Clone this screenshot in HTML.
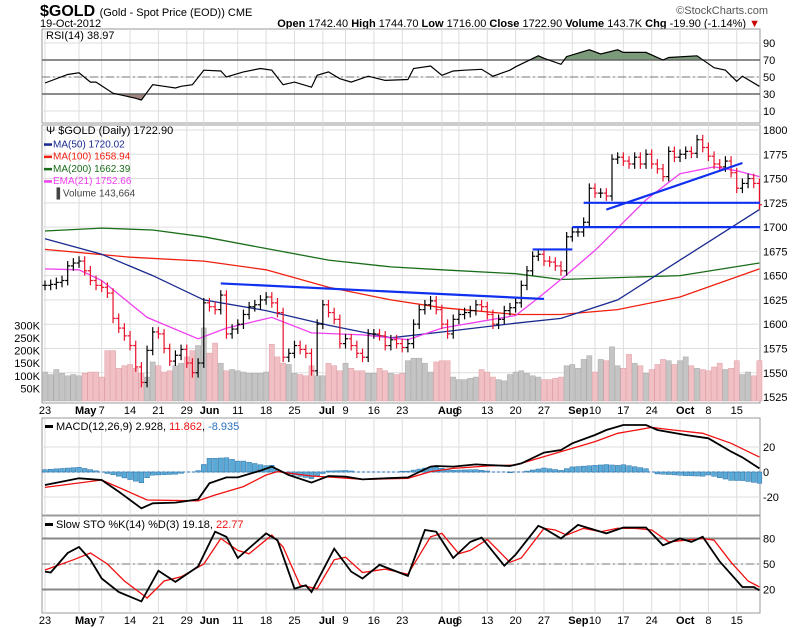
<!DOCTYPE html>
<html><head><meta charset="utf-8">
<style>
html,body{margin:0;padding:0;background:#fff;}
svg{display:block;font-family:"Liberation Sans",sans-serif;}
</style></head>
<body>
<svg id="chart" width="800" height="628" viewBox="0 0 800 628">
  <text x="40" y="16" font-size="16" font-weight="bold">$GOLD <tspan font-size="11" font-weight="normal">(Gold - Spot Price (EOD)) CME</tspan></text>
  <text x="768" y="14" font-size="11" fill="#555" text-anchor="end">©StockCharts.com</text>
  <text x="40" y="27" font-size="11">19-Oct-2012</text>
  <text x="760" y="27" font-size="11" text-anchor="end"><tspan font-weight="bold">Open</tspan> 1742.40 <tspan font-weight="bold">High</tspan> 1744.70 <tspan font-weight="bold">Low</tspan> 1716.00 <tspan font-weight="bold">Close</tspan> 1722.90 <tspan font-weight="bold">Volume</tspan> 143.7K <tspan font-weight="bold">Chg</tspan> -19.90 (-1.14%) <tspan fill="#c00">▼</tspan></text>
  <g id="layers"></g>
</svg>
<script>
// ---- data ----
const closes = [1640,1641,1643,1645,1660, 1663,1665,1655,1645,1640, 1638,1632,1606,1596,1588, 1578,1556,1540,1573,1592,
 1590,1575,1562,1568,1574, 1560,1550,1560,1622, 1618,1615,1630,1590,1595, 1600,1610,1618,1620,1625,
 1628,1622,1612,1566,1570, 1578,1574,1570,1552,1600, 1620,1612,1605,1580, 1585,1578,1570,1566,1590,
 1590,1588,1578,1584,1580, 1576,1580,1600,1615,1620, 1624,1615,1600,1590,1605, 1610,1612,1614,1620,1618,
 1610,1600,1605,1614,1617, 1622,1640,1655,1670,1672, 1665,1664,1660,1655,1690, 1695,1695,1705,1740,
 1735,1735,1732,1770,1772, 1768,1765,1772,1765,1775, 1765,1760,1752,1778,1772, 1775,1778,1776,1790,1782,
 1773,1765,1762,1768,1756, 1740,1745,1750,1745,1723];
const volumes = [115,105,125,110,100, 105,100,110,115,115, 95,200,200,130,140, 145,130,110,95,155,
 140,115,120,140,150, 175,200,220,290, 190,230,150,120,125, 120,115,110,110,110,
 115,225,175,150,145, 110,105,100,140,100, 100,150,140,120, 150,130,120,120,110,
 110,130,120,110,105, 110,160,170,170,150, 115,155,160,160,95, 85,85,90,95,125,
 115,95,85,80,105, 115,120,110,100,95, 85,85,90,95,140, 145,130,165,180,
 115,165,160,215,140, 130,185,150,140,110, 125,145,165,160,145, 160,175,140,130,125,
 120,135,150,125,130, 160,105,115,100,160];
const ma50Idx = [0,10,19,28,39,50,61,70,83,91,101,112,126];
const ma50Val = [1688,1672,1650,1625,1614,1599,1586,1592,1601,1606,1625,1666,1718];
const ma100Idx = [0,15,28,39,50,61,70,83,91,101,112,126];
const ma100Val = [1677,1669,1665,1656,1638,1625,1617,1610,1610,1615,1628,1657];
const ma200Idx = [0,10,19,28,39,50,61,70,83,91,101,112,126];
const ma200Val = [1696,1699,1697,1690,1678,1666,1659,1656,1652,1646,1648,1650,1663];
const emaIdx = [0,6,10,18,27,32,40,47,56,64,70,78,83,87,92,97,106,112,118,122,126];
const emaVal = [1657,1656,1645,1607,1585,1596,1607,1591,1589,1584,1596,1604,1609,1627,1651,1676,1728,1755,1762,1758,1752];
const rsiIdx = [0,4,6,8,9,12,16,17,19,21,23,24,26,28,31,32,35,38,40,42,44,47,48,50,52,54,57,60,64,65,68,70,72,74,77,79,82,83,87,88,91,92,96,98,101,102,106,109,110,115,118,120,122,123,126];
const rsiVal = [43,53,55,44,44,31,25,23,41,39,37,39,41,58,57,50,56,60,58,41,44,38,52,56,48,44,51,46,47,60,63,52,57,58,59,51,58,62,75,72,65,74,82,77,82,79,79,70,73,75,61,58,45,51,39];
const macdIdx = [0,6,10,13,17,19,23,27,29,32,34,38,40,43,47,50,53,56,60,64,68,69,72,76,78,82,84,88,91,93,97,99,102,106,108,113,117,121,123,126];
const macdVal = [-10.4,-5,-6.4,-15.7,-29,-25,-24.5,-21.9,-9,-4.3,-4.3,1.1,4.3,-2.4,-8.5,-3.2,-3.7,-5.9,-5,-4.3,4.3,4.8,4.3,6.1,5.6,4.8,6.9,15.5,17.6,23,29.6,33.6,37.6,37.6,33.6,29.6,27,16.3,11.7,2.9];
const sigIdx = [0,10,14,18,27,30,35,39,41,47,51,56,64,68,72,78,83,88,92,97,101,107,110,116,121,126];
const sigVal = [-12.3,-6.4,-14.3,-22.4,-23,-18.4,-11.7,-2.4,0.3,-3.2,-4.3,-5.9,-5,0.3,2.9,4.8,5.6,12.3,17.6,24.3,31,35.7,34,31,23,11.9];
const stoKIdx = [0,1,4,6,8,10,13,17,20,23,27,30,32,34,39,41,44,46,47,51,54,56,59,64,67,69,72,75,77,81,83,87,88,91,94,97,99,102,106,109,112,114,116,119,123,125,126];
const stoKVal = [41,40,63,70,55,33,17,6,42,29,47,88,82,57,86,78,21,25,17,68,41,33,49,36,90,88,57,76,81,48,61,95,92,80,96,90,86,93,93,72,80,76,82,53,23,23,19];
const stoDIdx = [0,5,8,11,14,18,21,24,28,31,34,36,40,42,45,48,51,53,56,60,64,68,70,73,75,78,82,84,88,90,92,95,98,101,104,107,110,113,116,118,121,124,126];
const stoDVal = [43,55,63,50,30,10,30,35,50,80,66,62,84,70,25,21,55,58,40,44,38,82,86,62,66,79,52,57,92,90,84,92,88,92,92,90,76,78,80,78,52,30,23];
const priceTicks = [1800,1775,1750,1725,1700,1675,1650,1625,1600,1575,1550,1525];
const volTicks = [300,250,200,150,100,50];
const rsiTicks = [90,70,50,30,10];
const macdTicks = [20,0,-20];
const stoTicks = [80,50,20];
const dateLabels = ["23","May","7","14","21","29","Jun","11","18","25","Jul","9","16","23","Aug","6","13","20","27","Sep","10","17","24","Oct","8","15"];
const dateIdx = [0,6,10,15,20,25,28,34,39,44,49,53,58,63,70,73,78,83,88,93,97,102,107,112,117,122];
const trendLines = [[31,1642,88,1626],[86,1677,93,1677],[93,1700,127,1700],[95,1725,127,1725],[99,1718,123,1766]];

// ---- layout ----
const L=42,R=760;
const X=i=>45+i*5.67;
const yP=p=>130+(1800-p)*0.971;
const yV=v=>401-v*0.252;
const yR=v=>77-(v-50)*0.85;
const yM=v=>472-v*1.25;
const yS=v=>564-(v-50)*0.85;
const NS='http://www.w3.org/2000/svg';
const root=document.getElementById('layers');
function mk(tag,attrs,parent){const e=document.createElementNS(NS,tag);for(const k in attrs)e.setAttribute(k,attrs[k]);(parent||root).appendChild(e);return e;}
function pts(idx,val,f){return idx.map((i,k)=>X(i).toFixed(1)+','+f(val[k]).toFixed(1)).join(' ');}

const panels=[[29,123,'rsi-panel'],[125,403,'price-panel'],[418,515,'macd-panel'],[516,613,'sto-panel']];
panels.forEach(p=>{
  const r=mk('rect',{x:L,y:p[0],width:R-L,height:p[1]-p[0],fill:'#fff',stroke:'#999','stroke-width':1});
  
  
  dateIdx.forEach(i=>{
    const g=mk('line',{x1:X(i),x2:X(i),y1:p[0],y2:p[1],stroke:'#ddd','stroke-width':1});
    
    
  });
});
function hgrid(ticks,f,name){ticks.forEach(t=>{
  const g=mk('line',{x1:L,x2:R,y1:f(t),y2:f(t),stroke:'#ddd'});
  
  
  const tx=mk('text',{x:763,y:f(t)+4,'font-size':11});
  tx.textContent=t;
  
  
});}
hgrid(rsiTicks,yR,'rsi');hgrid(priceTicks,yP,'price');hgrid(macdTicks,yM,'macd');hgrid(stoTicks,yS,'sto');

// RSI
const rsiPath='M'+pts(rsiIdx,rsiVal,yR);
mk('clipPath',{id:'above70'});mk('rect',{x:L,y:29,width:R-L,height:yR(70)-29},root.lastChild);
mk('clipPath',{id:'below30'});mk('rect',{x:L,y:yR(30),width:R-L,height:123-yR(30)},root.lastChild);
mk('path',{d:rsiPath+' L'+X(126)+','+yR(70)+' L'+X(0)+','+yR(70)+'Z',fill:'#7a9a7a','clip-path':'url(#above70)'});
mk('path',{d:rsiPath+' L'+X(126)+','+yR(30)+' L'+X(0)+','+yR(30)+'Z',fill:'#a08880','clip-path':'url(#below30)'});
[70,30].forEach(v=>mk('line',{x1:L,x2:R,y1:yR(v),y2:yR(v),stroke:'#666','stroke-width':1.5}));
mk('line',{x1:L,x2:R,y1:yR(50),y2:yR(50),stroke:'#777','stroke-dasharray':'8,3,2,3'});
const rl=mk('polyline',{points:pts(rsiIdx,rsiVal,yR),fill:'none',stroke:'#000','stroke-width':1.2});


const rt=mk('text',{x:46,y:39,'font-size':11});rt.textContent='RSI(14) 38.97';



// volume
volumes.forEach((v,i)=>{
  const down=i>0&&closes[i]<closes[i-1];
  const b=mk('rect',{x:X(i)-2.6,y:yV(v),width:5.2,height:401-yV(v),fill:down?'#f0c0c4':'#c4c4c4',stroke:down?'#e0a0a8':'#aaa','stroke-width':0.5});
  
  
});
volTicks.forEach(t=>{const tx=mk('text',{x:40,y:yV(t)+4,'font-size':11,'text-anchor':'end'});tx.textContent=t+'K';
  
  });

// MAs
function line(idx,val,col,w,name){const l=mk('polyline',{points:pts(idx,val,yP),fill:'none',stroke:col,'stroke-width':w});
  
  }
line(ma200Idx,ma200Val,'#1a6e1a',1.3,'ma200-line');
line(ma100Idx,ma100Val,'#f02010',1.3,'ma100-line');
line(ma50Idx,ma50Val,'#1a2a90',1.3,'ma50-line');
line(emaIdx,emaVal,'#f040f0',1.3,'ema21-line');

// price bars
closes.forEach((c,i)=>{
  const o=i>0?closes[i-1]:c, down=i>0&&c<o, col=down?'#e8102a':'#000';
  const hi=Math.max(o,c)+5, lo=Math.min(o,c)-5, x=X(i);
  const g=mk('g',{stroke:col,'stroke-width':1.2});
  
  
  mk('line',{x1:x,x2:x,y1:yP(hi),y2:yP(lo)},g);
  mk('line',{x1:x-2.5,x2:x,y1:yP(o),y2:yP(o)},g);
  mk('line',{x1:x,x2:x+2.5,y1:yP(c),y2:yP(c)},g);
});
trendLines.forEach(t=>{const l=mk('line',{x1:Math.min(X(t[0]),R),y1:yP(t[1]),x2:Math.min(X(t[2]),R),y2:yP(t[3]),stroke:'#1030f0','stroke-width':2.2});
  
  });

// price legend
const leg=[['$GOLD (Daily) 1722.90','#000'],['MA(50) 1720.02','#1a2a90'],['MA(100) 1658.94','#f02010'],['MA(200) 1662.39','#1a6e1a'],['EMA(21) 1752.66','#f040f0'],['Volume 143,664','#444']];
leg.forEach((e,k)=>{const y=k==0?134:135+k*12.3;
  if(k>0&&k<5)mk('rect',{x:44,y:y-4,width:8,height:2.5,fill:e[1]});
  const t=mk('text',{x:k==0?46:53,y:y,'font-size':k==0?11:10,fill:e[1]});
  t.textContent=(k==0?'\u03A8 ':'')+(k==5?'\u2590 ':'')+e[0];
  
  });

// MACD
function interp(idx,val,i){for(let k=1;k<idx.length;k++){if(i<=idx[k]){const t=(i-idx[k-1])/(idx[k]-idx[k-1]);return val[k-1]+t*(val[k]-val[k-1]);}}return val[val.length-1];}
mk('line',{x1:L,x2:R,y1:yM(0),y2:yM(0),stroke:'#2a70c0','stroke-dasharray':'3,2'});
for(let i=0;i<closes.length;i++){const d=interp(macdIdx,macdVal,i)-interp(sigIdx,sigVal,i);
  if(Math.abs(d)<0.6)continue;
  const b=mk('rect',{x:X(i)-2.4,y:Math.min(yM(0),yM(d)),width:4.8,height:Math.abs(yM(d)-yM(0)),fill:'#5aaad8',stroke:'#2a70a8','stroke-width':0.5});
  
  }
const sg=mk('polyline',{points:pts(sigIdx,sigVal,yM),fill:'none',stroke:'#f01010','stroke-width':1.3});


const ml=mk('polyline',{points:pts(macdIdx,macdVal,yM),fill:'none',stroke:'#000','stroke-width':1.8});


mk('rect',{x:45,y:425,width:8,height:3,fill:'#000'});
const mt=mk('text',{x:56,y:430,'font-size':11});
mt.innerHTML='MACD(12,26,9) 2.928, <tspan fill="#f01010">11.862</tspan>, <tspan fill="#2a70c0">-8.935</tspan>';



// STO
[80,20].forEach(v=>mk('line',{x1:L,x2:R,y1:yS(v),y2:yS(v),stroke:'#888','stroke-width':2}));
mk('line',{x1:L,x2:R,y1:yS(50),y2:yS(50),stroke:'#777','stroke-dasharray':'8,3,2,3'});
const sd=mk('polyline',{points:pts(stoDIdx,stoDVal,yS),fill:'none',stroke:'#f01010','stroke-width':1.3});


const sk=mk('polyline',{points:pts(stoKIdx,stoKVal,yS),fill:'none',stroke:'#000','stroke-width':1.8});


mk('rect',{x:45,y:523,width:8,height:3,fill:'#000'});
const st=mk('text',{x:56,y:528,'font-size':11});
st.innerHTML='Slow STO %K(14) %D(3) 19.18, <tspan fill="#f01010">22.77</tspan>';



// date labels
[414,624].forEach(y=>dateLabels.forEach((d,k)=>{
  const isMonth=isNaN(+d);
  const t=mk('text',{x:X(dateIdx[k]),y:y,'font-size':11,'text-anchor':isMonth?'start':'middle','font-weight':isMonth?'bold':'normal'});
  if(isMonth)t.setAttribute('x',X(dateIdx[k])-4);
  t.textContent=d;
  
  
}));
</script>
</body></html>
